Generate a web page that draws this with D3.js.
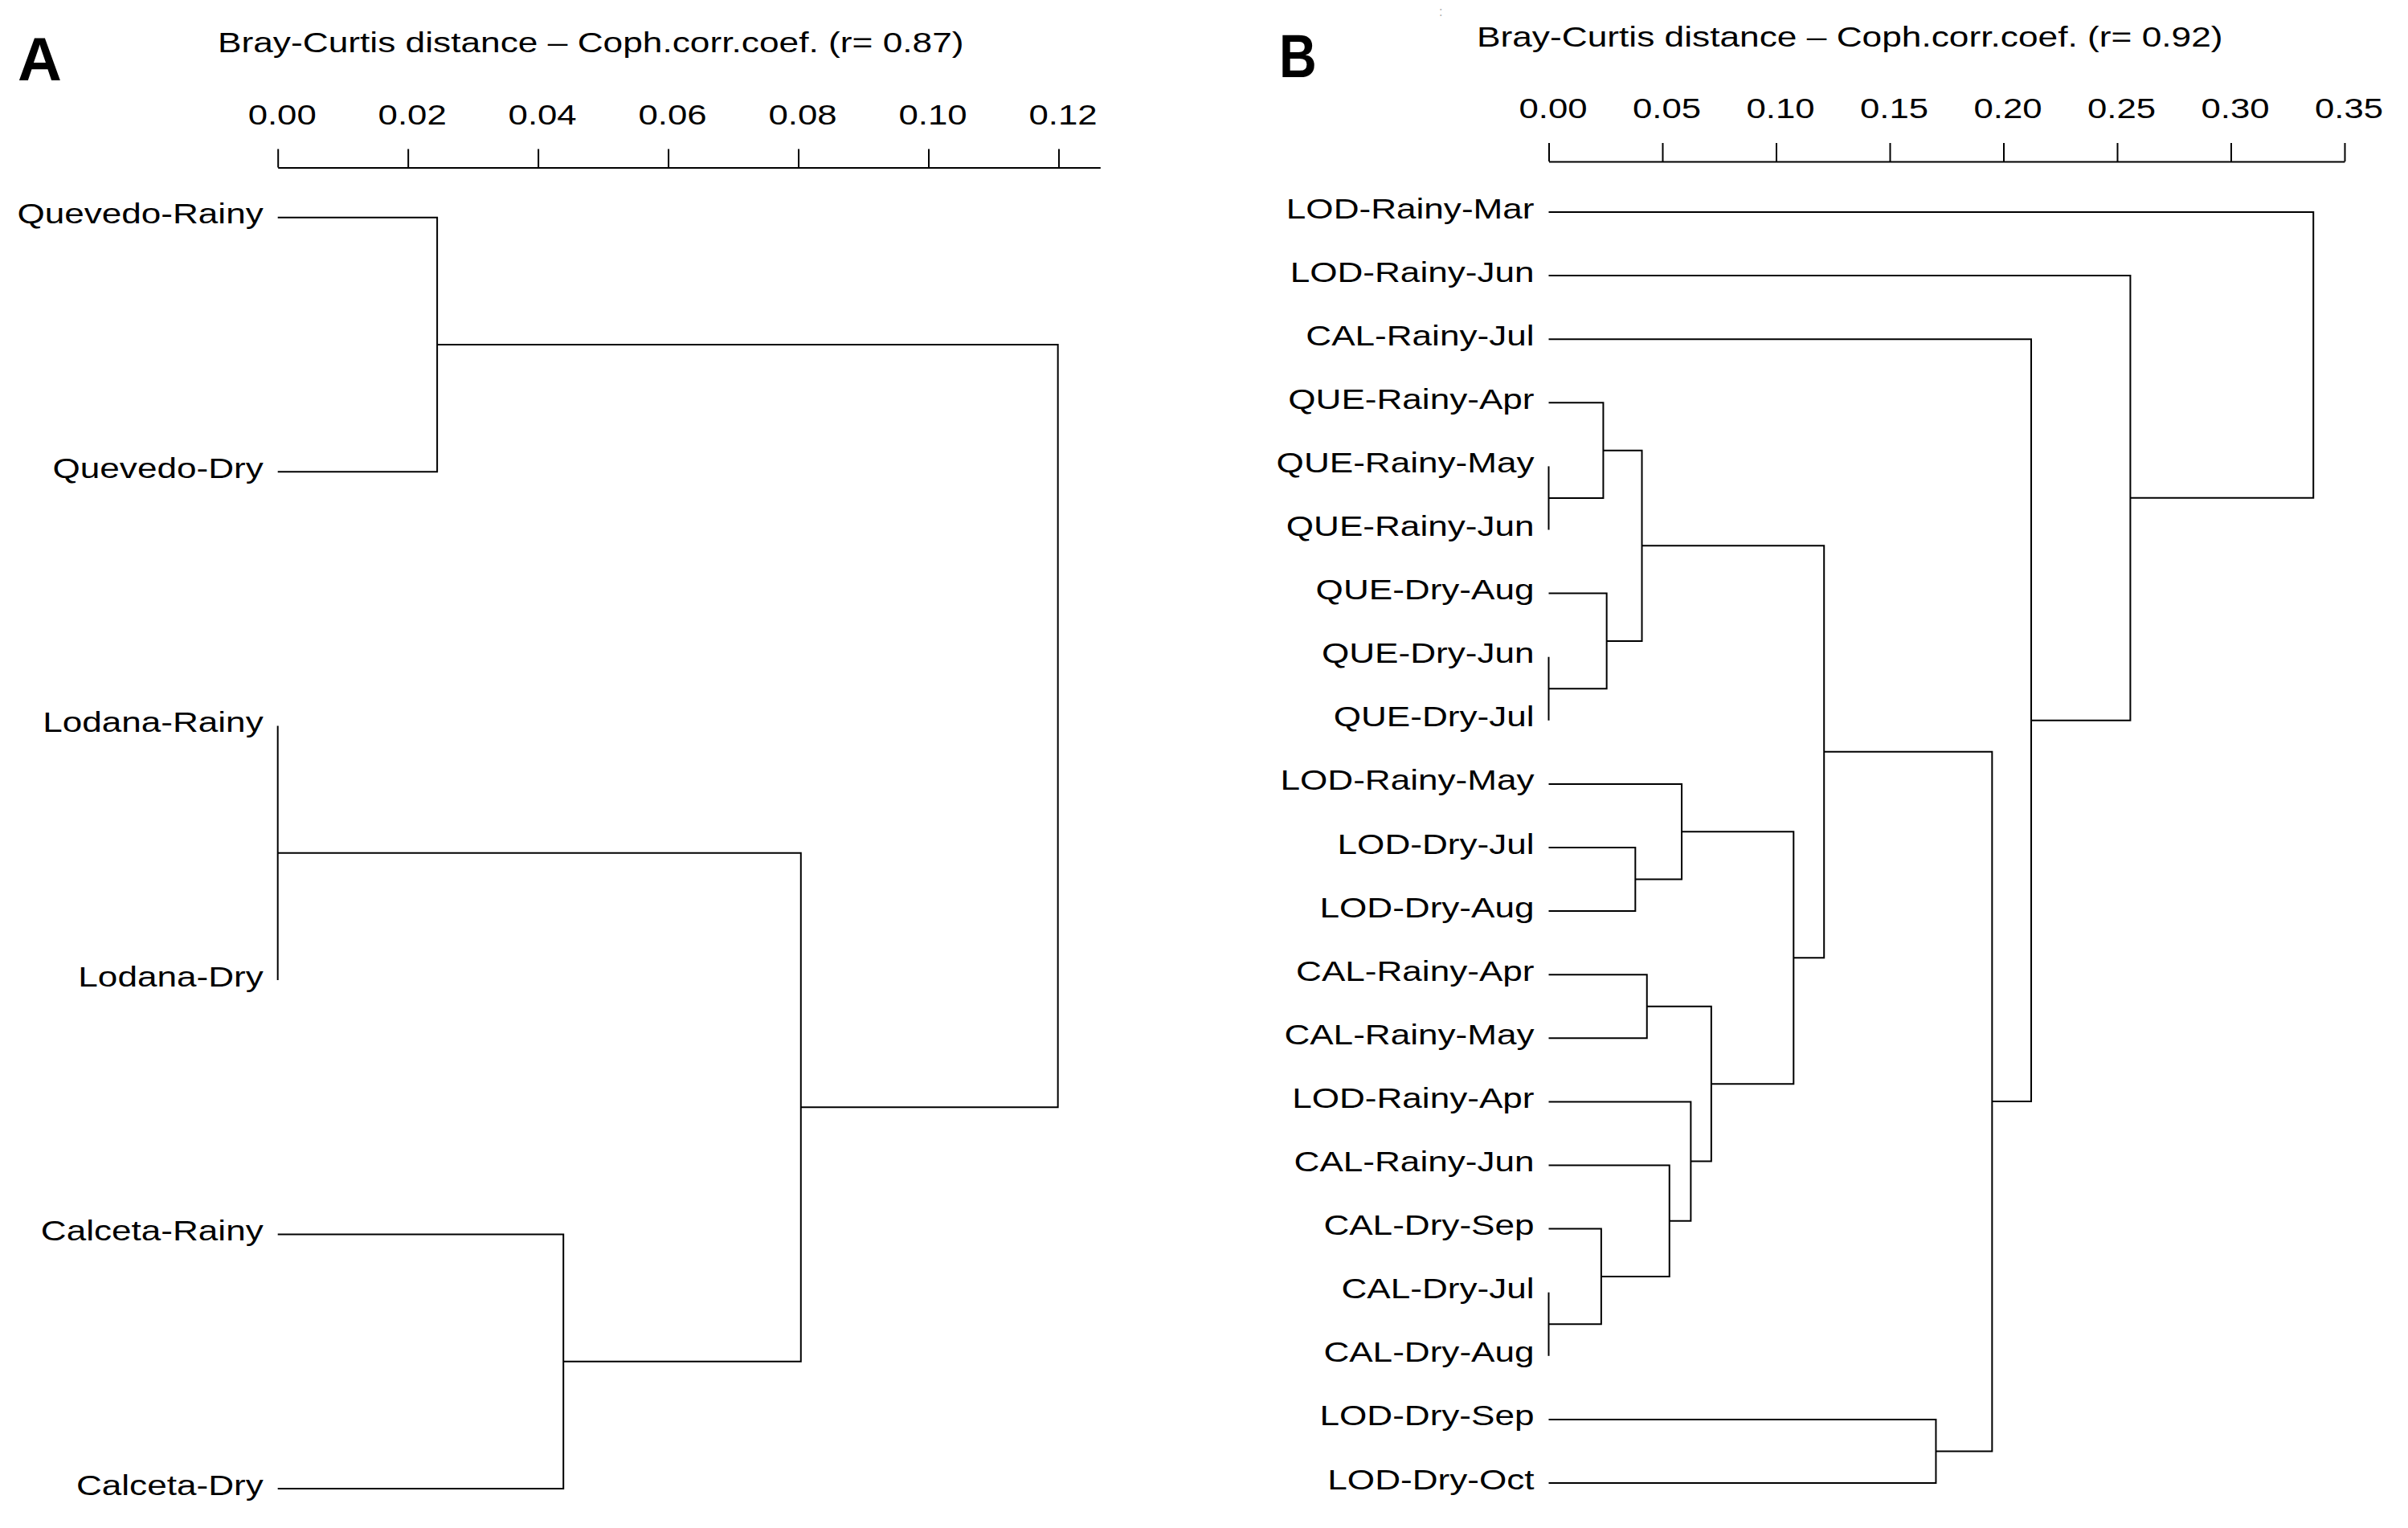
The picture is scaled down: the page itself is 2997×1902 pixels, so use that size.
<!DOCTYPE html>
<html>
<head>
<meta charset="utf-8">
<script src="https://cdn.jsdelivr.net/npm/d3@7"></script>
<style>
  body { margin: 0; background: #fff; }
  text { font-family: "Liberation Sans", Arial, Helvetica, sans-serif; fill: #000; }
</style>
</head>
<body>
<script>
// Panel A: sites pooled by season
var leavesA = ["Quevedo-Rainy", "Quevedo-Dry", "Lodana-Rainy", "Lodana-Dry", "Calceta-Rainy", "Calceta-Dry"];
// hclust-style merges: negative = leaf (1-based), positive = earlier merge
var mergesA = [[-3, -4], [-1, -2], [-5, -6], [1, 3], [2, 4]];
var heightsA = [0, 0.0245, 0.0439, 0.0804, 0.1199];
var ticksA = [0, 0.02, 0.04, 0.06, 0.08, 0.10, 0.12];
var titleA = "Bray-Curtis distance – Coph.corr.coef. (r= 0.87)";

// Panel B: site x season x month
var leavesB = ["LOD-Rainy-Mar", "LOD-Rainy-Jun", "CAL-Rainy-Jul", "QUE-Rainy-Apr", "QUE-Rainy-May",
  "QUE-Rainy-Jun", "QUE-Dry-Aug", "QUE-Dry-Jun", "QUE-Dry-Jul", "LOD-Rainy-May", "LOD-Dry-Jul",
  "LOD-Dry-Aug", "CAL-Rainy-Apr", "CAL-Rainy-May", "LOD-Rainy-Apr", "CAL-Rainy-Jun", "CAL-Dry-Sep",
  "CAL-Dry-Jul", "CAL-Dry-Aug", "LOD-Dry-Sep", "LOD-Dry-Oct"];
var mergesB = [[-5, -6], [-8, -9], [-18, -19], [-17, 3], [-4, 1], [-7, 2], [-11, -12], [5, 6],
  [-13, -14], [-16, 4], [-10, 7], [-15, 10], [9, 12], [11, 13], [8, 14], [-20, -21], [15, 16],
  [-3, 17], [-2, 18], [-1, 19]];
var heightsB = [0, 0, 0, 0.0231, 0.0240, 0.0255, 0.0381, 0.0410, 0.0432, 0.0531, 0.0585, 0.0625,
  0.0715, 0.1077, 0.1211, 0.1703, 0.1950, 0.2122, 0.2558, 0.3363];
var ticksB = [0, 0.05, 0.10, 0.15, 0.20, 0.25, 0.30, 0.35];
var titleB = "Bray-Curtis distance – Coph.corr.coef. (r= 0.92)";

var W = 2997, H = 1902;
var stretch = 1.26;   // text in the figure is horizontally stretched
var fontSize = 35;

var svg = d3.select("body").append("svg")
  .attr("width", W)
  .attr("height", H);

function drawDendro(cfg) {
  var g = svg.append("g");

  var x = d3.scaleLinear().domain([0, cfg.xmax]).range([cfg.x0, cfg.x1]);
  var y = d3.scalePoint().domain(d3.range(cfg.leaves.length)).range([cfg.yTop, cfg.yBottom]);

  // panel letter
  g.append("text")
    .attr("transform", `translate(${cfg.letterX}, ${cfg.letterY}) scale(${cfg.letterScale}, 1)`)
    .style("font-size", "76px")
    .style("font-weight", "bold")
    .text(cfg.letter);

  // title
  g.append("text")
    .attr("transform", `translate(${cfg.titleX}, ${cfg.titleY}) scale(1.265, 1)`)
    .style("font-size", fontSize + "px")
    .text(cfg.title);

  // axis on top
  var axis = g.append("g")
    .attr("transform", `translate(0, ${cfg.axisY})`)
    .call(d3.axisTop(x)
      .tickValues(cfg.ticks)
      .tickFormat(d3.format(".2f"))
      .tickSize(23)
      .tickPadding(31)
      .tickSizeOuter(0));
  axis.select(".domain").attr("stroke-width", 2);
  axis.selectAll(".tick line").attr("stroke-width", 2);
  axis.selectAll(".tick text")
    .attr("transform", `translate(5, 0) scale(1.25, 1)`)
    .style("font-size", fontSize + "px")
    .style("font-family", '"Liberation Sans", Arial, Helvetica, sans-serif');

  // dendrogram branches, node y = midpoint of its two children
  var nodes = [];
  function pos(ref) {
    return ref < 0 ? { x: x(0), y: y(-ref - 1) } : nodes[ref - 1];
  }
  cfg.merges.forEach(function(m, i) {
    var a = pos(m[0]), b = pos(m[1]);
    var hx = x(cfg.heights[i]);
    nodes.push({ x: hx, y: (a.y + b.y) / 2 });
    var p = d3.path();
    p.moveTo(a.x, a.y);
    p.lineTo(hx, a.y);
    p.lineTo(hx, b.y);
    p.lineTo(b.x, b.y);
    g.append("path")
      .attr("d", p.toString())
      .attr("fill", "none")
      .attr("stroke", "#000")
      .attr("stroke-width", 2);
  });

  // leaf labels
  g.selectAll("text.leaf")
    .data(cfg.leaves)
    .enter()
    .append("text")
    .attr("class", "leaf")
    .attr("text-anchor", "end")
    .attr("transform", (d, i) => `translate(${x(0) - 18}, ${y(i) + 7.5}) scale(${stretch}, 1)`)
    .style("font-size", fontSize + "px")
    .text(d => d);
}

drawDendro({
  letter: "A", letterX: 22, letterY: 100, letterScale: 1,
  title: titleA, titleX: 271, titleY: 65,
  leaves: leavesA, merges: mergesA, heights: heightsA, ticks: ticksA,
  xmax: 0.1264, x0: 345.7, x1: 1369.3,
  axisY: 208.5, yTop: 270.7, yBottom: 1853
});

drawDendro({
  letter: "B", letterX: 1592, letterY: 96, letterScale: 0.85,
  title: titleB, titleX: 1838, titleY: 58,
  leaves: leavesB, merges: mergesB, heights: heightsB, ticks: ticksB,
  xmax: 0.35, x0: 1927.5, x1: 2918,
  axisY: 201, yTop: 264, yBottom: 1846
});

// tiny scan mark near the top of panel B
svg.append("text")
  .attr("x", 1791)
  .attr("y", 20)
  .style("font-size", "16px")
  .style("fill", "#aaa")
  .text(":");
</script>
</body>
</html>
